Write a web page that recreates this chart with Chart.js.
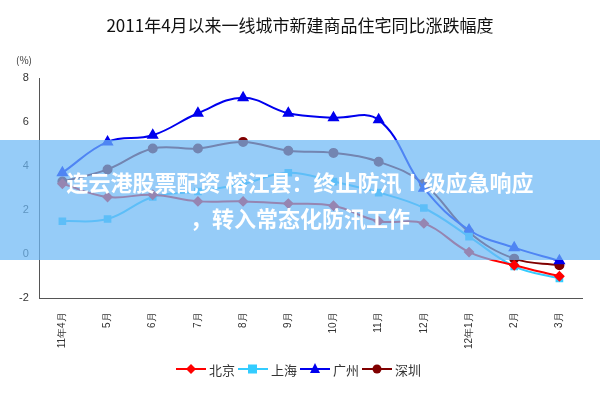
<!DOCTYPE html><html><head><meta charset="utf-8">
<script src="https://cdn.jsdelivr.net/npm/chart.js@4"></script>
<style>body{margin:0;background:#fff;font-family:"Noto Sans CJK SC",sans-serif}
#w{position:relative;width:600px;height:400px}
#t{position:absolute;top:12px;width:600px;text-align:center;font-size:17px;color:#111}
#u{position:absolute;left:16px;top:52px;font-size:10px;color:#333}
#ov{position:absolute;left:0;top:140px;width:600px;height:120px;background:rgba(110,185,245,0.72);color:#fff;font-weight:bold;font-size:22px;text-align:center;line-height:36px;padding-top:23px;box-sizing:border-box}
#lg{position:absolute;top:358px;left:0;width:600px;text-align:center;font-size:13px;color:#333}
#lg span{margin:0 3px;vertical-align:middle}
svg{vertical-align:middle}
</style></head><body><div id="w"><div id="t">2011年4月以来一线城市新建商品住宅同比涨跌幅度</div><div id="u">(%)</div>
<canvas id="c" width="600" height="400"></canvas>
<div id="ov">连云港股票配资 榕江县：终止防汛Ⅰ级应急响应<br>，转入常态化防汛工作</div>
<div id="lg"></div></div>
<script>
const labels=["11年4月","5月","6月","7月","8月","9月","10月","11月","12月","12年1月","2月","3月"];
const beijing=[3.2,2.6,2.7,2.4,2.4,2.3,2.2,1.5,1.4,0.1,-0.5,-1.0];
const shanghai=[1.5,1.6,2.6,2.85,3.2,3.7,3.3,2.8,2.1,0.8,-0.55,-1.1];
const guangzhou=[3.7,5.1,5.4,6.4,7.1,6.4,6.2,6.1,3.0,1.1,0.3,-0.3];
const shenzhen=[3.3,3.85,4.8,4.8,5.1,4.7,4.6,4.2,3.2,1.0,-0.2,-0.5];
const ds=(l,d,c,s,r)=>({label:l,data:d,borderColor:c,backgroundColor:c,pointStyle:s,pointRadius:r,borderWidth:2,tension:0.4});
const ch=new Chart(document.getElementById('c'),{type:'line',data:{labels,datasets:[
ds('北京',beijing,'#ff0000','rectRot',4),ds('上海',shanghai,'#33ccff','rect',4),ds('广州',guangzhou,'#0000ee','triangle',5),ds('深圳',shenzhen,'#800000','circle',4)]},
options:{responsive:false,animation:false,layout:{padding:{top:78,left:16,right:18,bottom:45}},
plugins:{legend:{display:false},tooltip:{enabled:false}},
scales:{x:{offset:true,grid:{display:false,offset:true},border:{color:'#555'},ticks:{minRotation:90,maxRotation:90,font:{size:10},color:'#333',padding:6}},
y:{min:-2,max:8,ticks:{stepSize:2,font:{size:11},color:'#333'},grid:{display:false},border:{color:'#555'}}}}});
const mk={rectRot:c=>`<polygon points="15,1 20,6 15,11 10,6" fill="${c}"/>`,rect:c=>`<rect x="10" y="1.5" width="9" height="9" fill="${c}"/>`,triangle:c=>`<polygon points="15,0 20,10 10,10" fill="${c}"/>`,circle:c=>`<circle cx="15" cy="6" r="4.5" fill="${c}"/>`};
document.getElementById('lg').innerHTML=ch.data.datasets.map(d=>`<svg width="30" height="12"><line x1="0" y1="6" x2="30" y2="6" stroke="${d.borderColor}" stroke-width="2"/>${mk[d.pointStyle](d.borderColor)}</svg><span>${d.label}</span>`).join('');
</script></body></html>
